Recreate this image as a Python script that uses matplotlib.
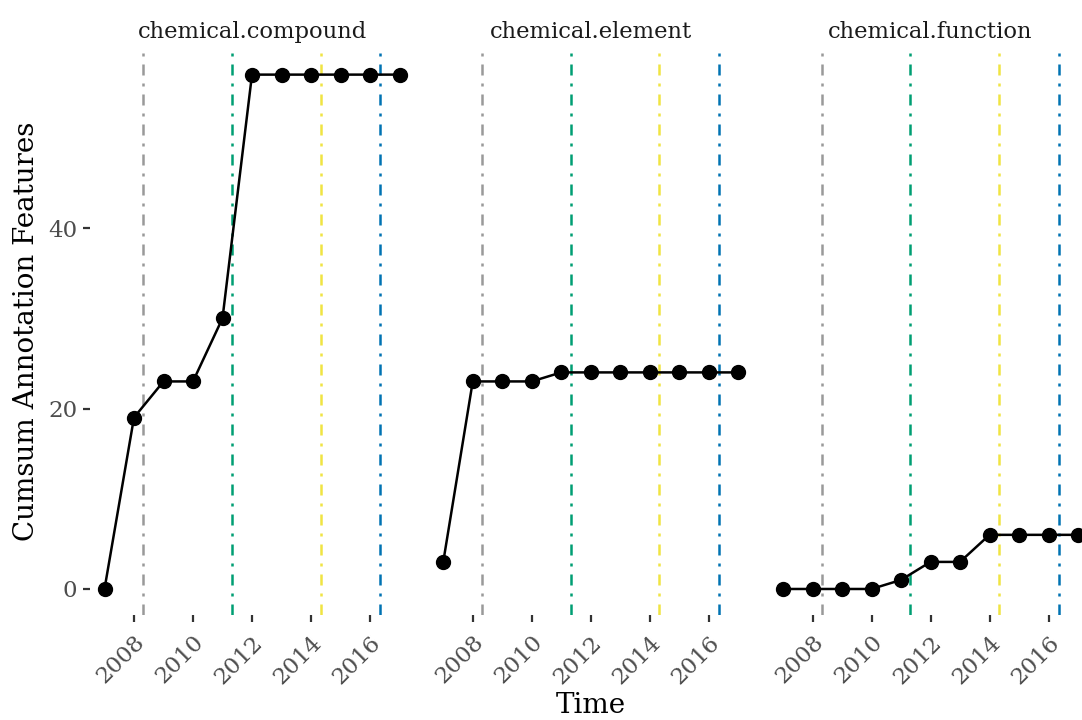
import matplotlib
matplotlib.use("Agg")
import matplotlib.pyplot as plt
import numpy as np

plt.rcParams['font.family'] = ['DejaVu Serif']

years = list(range(2007, 2018))
panels = ["chemical.compound", "chemical.element", "chemical.function"]
compound = [0, 19, 23, 23, 30, 57, 57, 57, 57, 57, 57]
element = [3, 23, 23, 23, 24, 24, 24, 24, 24, 24, 24]
function = [0, 0, 0, 0, 1, 3, 3, 6, 6, 6, 6]
series = [compound, element, function]

event_x = [2008.32, 2011.32, 2014.33, 2016.34]
event_colors = ["#999999", "#009E73", "#F0E442", "#0072B2"]

xticks = [2008, 2010, 2012, 2014, 2016]
yticks = [0, 20, 40]

W, H = 1082, 720
fig = plt.figure(figsize=(W / 100, H / 100), dpi=100)

lefts = [89.75, 428.5, 768.25]
pw = 324.5
top_px, bot_px = 48.9, 614.7

xmin, xmax = 2007 - 0.5, 2017 + 0.5
ymin, ymax = 0 - 57 * 0.05, 57 * 1.05

tick_color = "#4d4d4d"
for i, (name, vals) in enumerate(zip(panels, series)):
    ax = fig.add_axes([lefts[i] / W, 1 - bot_px / H, pw / W, (bot_px - top_px) / H])
    for xv, c in zip(event_x, event_colors):
        ax.axvline(xv, color=c, lw=1.8, linestyle=(0, (4.4, 3.2, 1.2, 3.2)), zorder=1)
    ax.plot(years, vals, color="black", lw=1.8, marker="o", markersize=10, zorder=3, clip_on=False)
    ax.set_xlim(xmin, xmax)
    ax.set_ylim(ymin, ymax)
    for s in ax.spines.values():
        s.set_visible(False)
    ax.set_xticks(xticks)
    ax.set_xticklabels([str(t) for t in xticks], rotation=45, ha="right", va="top",
                       rotation_mode="anchor", fontsize=16.5, color=tick_color)
    ax.tick_params(axis="x", length=5, width=1.6, color="#333333", pad=7)
    if i == 0:
        ax.set_yticks(yticks)
        ax.set_yticklabels([str(t) for t in yticks], fontsize=16.5, color=tick_color)
        ax.tick_params(axis="y", length=5, width=1.6, color="#333333", pad=4)
        ax.set_ylabel("Cumsum Annotation Features", fontsize=20, labelpad=6)
    else:
        ax.set_yticks([])
    if i == 1:
        ax.set_xlabel("Time", fontsize=20, labelpad=3)
    ax.set_title(name, fontsize=16.3, color="#1a1a1a", pad=8)
    ax.patch.set_alpha(0)

fig.savefig("out.png", dpi=100)
